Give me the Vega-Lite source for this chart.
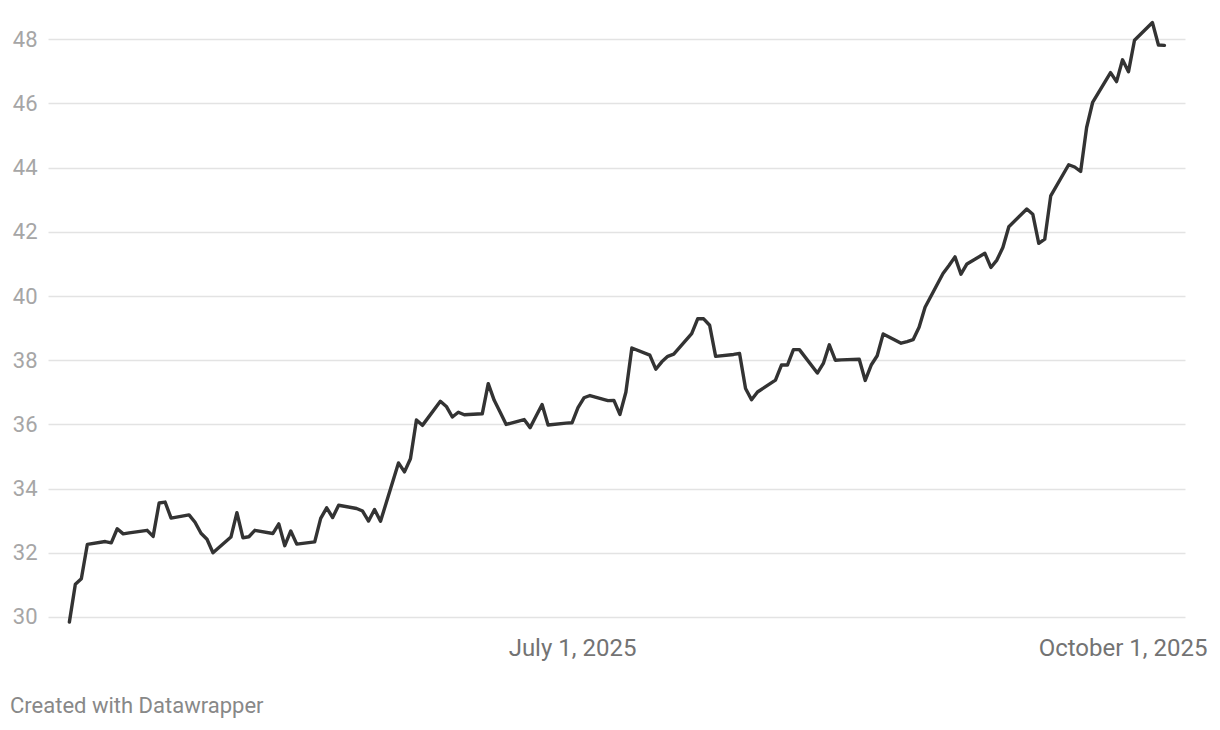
{
  "$schema": "https://vega.github.io/schema/vega-lite/v6.json",
  "width": 1137,
  "height": 605,
  "autosize": {"type": "none"},
  "padding": {"left": 48, "top": 20, "right": 35, "bottom": 105},
  "background": "#ffffff",
  "config": {
    "view": {"stroke": null},
    "font": "Roboto"
  },
  "title": {
    "text": "Created with Datawrapper",
    "orient": "bottom",
    "anchor": "start",
    "frame": "group",
    "offset": 36,
    "dx": -38,
    "fontSize": 22,
    "fontWeight": "normal",
    "color": "#888888",
    "font": "Roboto"
  },
  "data": {
    "values": [
      {"date": "2025-04-08", "value": 29.84},
      {"date": "2025-04-09", "value": 31.02},
      {"date": "2025-04-10", "value": 31.19},
      {"date": "2025-04-11", "value": 32.26},
      {"date": "2025-04-14", "value": 32.35},
      {"date": "2025-04-15", "value": 32.31},
      {"date": "2025-04-16", "value": 32.75},
      {"date": "2025-04-17", "value": 32.59},
      {"date": "2025-04-18", "value": 32.62},
      {"date": "2025-04-21", "value": 32.70},
      {"date": "2025-04-22", "value": 32.51},
      {"date": "2025-04-23", "value": 33.55},
      {"date": "2025-04-24", "value": 33.58},
      {"date": "2025-04-25", "value": 33.08},
      {"date": "2025-04-28", "value": 33.18},
      {"date": "2025-04-29", "value": 32.95},
      {"date": "2025-04-30", "value": 32.61},
      {"date": "2025-05-01", "value": 32.42},
      {"date": "2025-05-02", "value": 32.00},
      {"date": "2025-05-05", "value": 32.49},
      {"date": "2025-05-06", "value": 33.25},
      {"date": "2025-05-07", "value": 32.47},
      {"date": "2025-05-08", "value": 32.50},
      {"date": "2025-05-09", "value": 32.70},
      {"date": "2025-05-12", "value": 32.60},
      {"date": "2025-05-13", "value": 32.90},
      {"date": "2025-05-14", "value": 32.22},
      {"date": "2025-05-15", "value": 32.68},
      {"date": "2025-05-16", "value": 32.27},
      {"date": "2025-05-19", "value": 32.34},
      {"date": "2025-05-20", "value": 33.07},
      {"date": "2025-05-21", "value": 33.40},
      {"date": "2025-05-22", "value": 33.10},
      {"date": "2025-05-23", "value": 33.48},
      {"date": "2025-05-26", "value": 33.38},
      {"date": "2025-05-27", "value": 33.30},
      {"date": "2025-05-28", "value": 32.99},
      {"date": "2025-05-29", "value": 33.35},
      {"date": "2025-05-30", "value": 32.98},
      {"date": "2025-06-02", "value": 34.80},
      {"date": "2025-06-03", "value": 34.52},
      {"date": "2025-06-04", "value": 34.93},
      {"date": "2025-06-05", "value": 36.14},
      {"date": "2025-06-06", "value": 35.97},
      {"date": "2025-06-09", "value": 36.72},
      {"date": "2025-06-10", "value": 36.56},
      {"date": "2025-06-11", "value": 36.23},
      {"date": "2025-06-12", "value": 36.38},
      {"date": "2025-06-13", "value": 36.30},
      {"date": "2025-06-16", "value": 36.33},
      {"date": "2025-06-17", "value": 37.27},
      {"date": "2025-06-18", "value": 36.75},
      {"date": "2025-06-19", "value": 36.38},
      {"date": "2025-06-20", "value": 36.00},
      {"date": "2025-06-23", "value": 36.15},
      {"date": "2025-06-24", "value": 35.90},
      {"date": "2025-06-25", "value": 36.26},
      {"date": "2025-06-26", "value": 36.62},
      {"date": "2025-06-27", "value": 35.98},
      {"date": "2025-06-30", "value": 36.04},
      {"date": "2025-07-01", "value": 36.05},
      {"date": "2025-07-02", "value": 36.52},
      {"date": "2025-07-03", "value": 36.83},
      {"date": "2025-07-04", "value": 36.90},
      {"date": "2025-07-07", "value": 36.74},
      {"date": "2025-07-08", "value": 36.75},
      {"date": "2025-07-09", "value": 36.31},
      {"date": "2025-07-10", "value": 37.00},
      {"date": "2025-07-11", "value": 38.38},
      {"date": "2025-07-14", "value": 38.16},
      {"date": "2025-07-15", "value": 37.72},
      {"date": "2025-07-16", "value": 37.95},
      {"date": "2025-07-17", "value": 38.12},
      {"date": "2025-07-18", "value": 38.19},
      {"date": "2025-07-21", "value": 38.83},
      {"date": "2025-07-22", "value": 39.29},
      {"date": "2025-07-23", "value": 39.29},
      {"date": "2025-07-24", "value": 39.09},
      {"date": "2025-07-25", "value": 38.12},
      {"date": "2025-07-28", "value": 38.18},
      {"date": "2025-07-29", "value": 38.21},
      {"date": "2025-07-30", "value": 37.12},
      {"date": "2025-07-31", "value": 36.77},
      {"date": "2025-08-01", "value": 37.01},
      {"date": "2025-08-04", "value": 37.38},
      {"date": "2025-08-05", "value": 37.85},
      {"date": "2025-08-06", "value": 37.85},
      {"date": "2025-08-07", "value": 38.33},
      {"date": "2025-08-08", "value": 38.33},
      {"date": "2025-08-11", "value": 37.60},
      {"date": "2025-08-12", "value": 37.90},
      {"date": "2025-08-13", "value": 38.48},
      {"date": "2025-08-14", "value": 38.00},
      {"date": "2025-08-15", "value": 38.01},
      {"date": "2025-08-18", "value": 38.03},
      {"date": "2025-08-19", "value": 37.37},
      {"date": "2025-08-20", "value": 37.85},
      {"date": "2025-08-21", "value": 38.14},
      {"date": "2025-08-22", "value": 38.82},
      {"date": "2025-08-25", "value": 38.53},
      {"date": "2025-08-26", "value": 38.58},
      {"date": "2025-08-27", "value": 38.64},
      {"date": "2025-08-28", "value": 39.03},
      {"date": "2025-08-29", "value": 39.65},
      {"date": "2025-09-01", "value": 40.70},
      {"date": "2025-09-02", "value": 40.95},
      {"date": "2025-09-03", "value": 41.22},
      {"date": "2025-09-04", "value": 40.68},
      {"date": "2025-09-05", "value": 41.00},
      {"date": "2025-09-08", "value": 41.33},
      {"date": "2025-09-09", "value": 40.89},
      {"date": "2025-09-10", "value": 41.12},
      {"date": "2025-09-11", "value": 41.51},
      {"date": "2025-09-12", "value": 42.16},
      {"date": "2025-09-15", "value": 42.71},
      {"date": "2025-09-16", "value": 42.55},
      {"date": "2025-09-17", "value": 41.64},
      {"date": "2025-09-18", "value": 41.77},
      {"date": "2025-09-19", "value": 43.12},
      {"date": "2025-09-22", "value": 44.09},
      {"date": "2025-09-23", "value": 44.02},
      {"date": "2025-09-24", "value": 43.88},
      {"date": "2025-09-25", "value": 45.25},
      {"date": "2025-09-26", "value": 46.03},
      {"date": "2025-09-29", "value": 46.96},
      {"date": "2025-09-30", "value": 46.68},
      {"date": "2025-10-01", "value": 47.36},
      {"date": "2025-10-02", "value": 46.99},
      {"date": "2025-10-03", "value": 47.97},
      {"date": "2025-10-06", "value": 48.52},
      {"date": "2025-10-07", "value": 47.82},
      {"date": "2025-10-08", "value": 47.81}
    ]
  },
  "mark": {"type": "line", "color": "#333333", "strokeWidth": 3.4, "strokeJoin": "round", "strokeCap": "round", "clip": false},
  "encoding": {
    "x": {
      "field": "date",
      "type": "temporal",
      "scale": {
        "type": "utc",
        "domain": [
          {"year": 2025, "month": 4, "date": 4, "hours": 10, "minutes": 19, "utc": true},
          {"year": 2025, "month": 10, "date": 11, "hours": 10, "minutes": 33, "utc": true}
        ]
      },
      "axis": {
        "title": null,
        "values": [
          {"year": 2025, "month": 7, "date": 1, "utc": true},
          {"year": 2025, "month": 10, "date": 1, "utc": true}
        ],
        "format": "%B %-d, %Y",
        "grid": false,
        "domain": false,
        "ticks": false,
        "labelFlush": false,
        "labelOverlap": false,
        "labelPadding": 11,
        "labelFontSize": 24,
        "labelColor": "#737373",
        "labelFont": "Roboto"
      }
    },
    "y": {
      "field": "value",
      "type": "quantitative",
      "scale": {"domain": [29.75, 48.6], "nice": false, "zero": false},
      "axis": {
        "title": null,
        "values": [30, 32, 34, 36, 38, 40, 42, 44, 46, 48],
        "grid": true,
        "gridColor": "#e3e3e3",
        "gridWidth": 1.5,
        "domain": false,
        "ticks": false,
        "labelPadding": 11,
        "labelFontSize": 22,
        "labelColor": "#a6a6a6",
        "labelFont": "Roboto",
        "labelBaseline": "middle"
      }
    }
  }
}
